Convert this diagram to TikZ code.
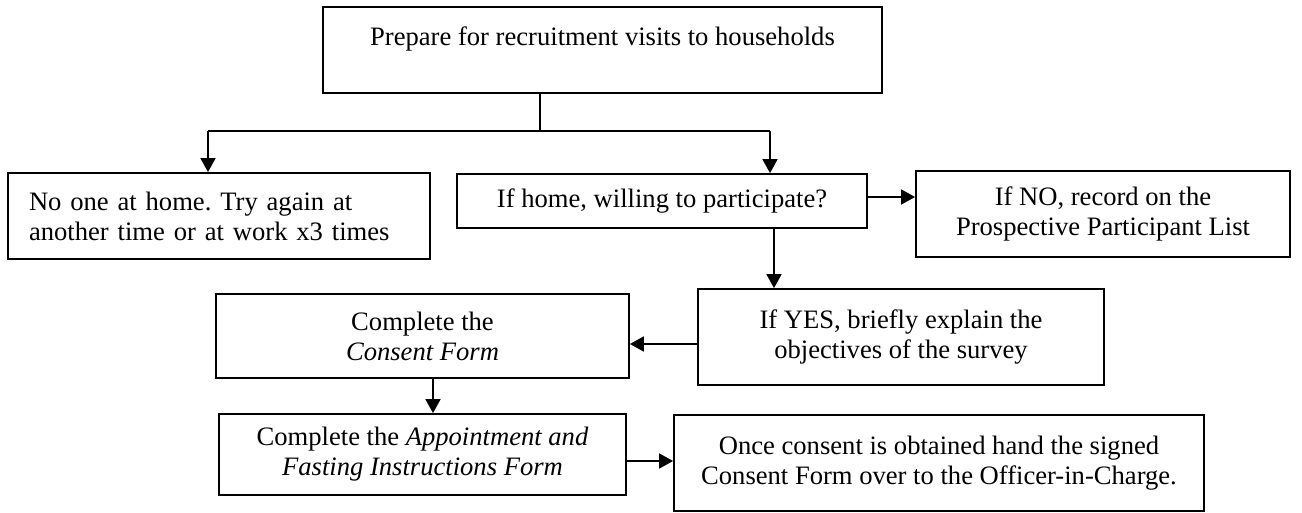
\documentclass[tikz,border=0pt]{standalone}
\usepackage{fontspec}
\setmainfont{Liberation Serif}
\usepackage{tikz}
\usetikzlibrary{arrows.meta, positioning}
\frenchspacing
\tikzset{stepbox/.style={draw, black, line width=0.9pt, inner sep=2pt, align=center,
    font=\fontsize{13.3}{15}\selectfont}}
\tikzset{flow arrow/.style={line width=0.9pt, -{Triangle[length=7pt, width=7.5pt]}}}

\begin{document}
\begin{tikzpicture}[x=1pt, y=1pt]
                    \useasboundingbox (0,0) rectangle (651,-256.5);
                    %Boxes of the flow chart:
                    \node[stepbox, minimum width=279.5pt, minimum height=43pt] (prep) at (301.25,-25)
                        {Prepare for recruitment visits to households\\[-6pt] \strut};
                    \node[stepbox, minimum width=211pt, minimum height=43pt, text width=190pt, align=left] (away) at (109.5,-108)
                        {No one at home. Try again at\\ another time or at work x3 times};
                    \node[stepbox, minimum width=205pt, minimum height=27pt] (willing) at (331,-100.5)
                        {If home, willing to participate?};
                    \node[stepbox, minimum width=187pt, minimum height=43pt] (refuse) at (551.5,-107)
                        {If NO, record on the\\ Prospective Participant List};
                    \node[stepbox, minimum width=203pt, minimum height=48pt] (explain) at (450.5,-168.5)
                        {If YES, briefly explain the\\ objectives of the survey};
                    \node[stepbox, minimum width=206.5pt, minimum height=42pt] (consent) at (211.25,-168)
                        {Complete the\\ \textit{Consent Form}};
                    \node[stepbox, minimum width=203.5pt, minimum height=40.5pt] (appoint) at (211.25,-227.25)
                        {Complete the \textit{Appointment and}\\ \textit{Fasting Instructions Form}};
                    \node[stepbox, minimum width=265pt, minimum height=48pt] (handover) at (469.5,-231.5)
                        {Once consent is obtained hand the signed\\ Consent Form over to the Officer-in-Charge.};
                    %Split below the first box:
                    \coordinate (split) at (270,-65.5);
                    \coordinate (lsplit) at (104,-65.5);
                    \coordinate (rsplit) at (385,-65.5);
                    \draw[line width=0.9pt] (prep.south -| split) -- (split);
                    \draw[line width=0.9pt] (lsplit) -- (rsplit);
                    \draw[flow arrow] (lsplit) -- (lsplit |- away.north);
                    \draw[flow arrow] (rsplit) -- (rsplit |- willing.north);
                    %Answers to the question:
                    \draw[flow arrow] ([yshift=2pt]willing.east) -- ([yshift=2pt]willing.east -| refuse.west);
                    \draw[flow arrow] ([xshift=56pt]willing.south) -- ([xshift=56pt]willing.south |- explain.north);
                    %Forms:
                    \draw[flow arrow] ([yshift=-3.5pt]explain.west) -- ([yshift=-3.5pt]explain.west -| consent.east);
                    \draw[flow arrow] ([xshift=5.25pt]consent.south) -- ([xshift=5.25pt]consent.south |- appoint.north);
                    \draw[flow arrow] ([yshift=-3.25pt]appoint.east) -- ([yshift=-3.25pt]appoint.east -| handover.west);
                \end{tikzpicture}
\end{document}
